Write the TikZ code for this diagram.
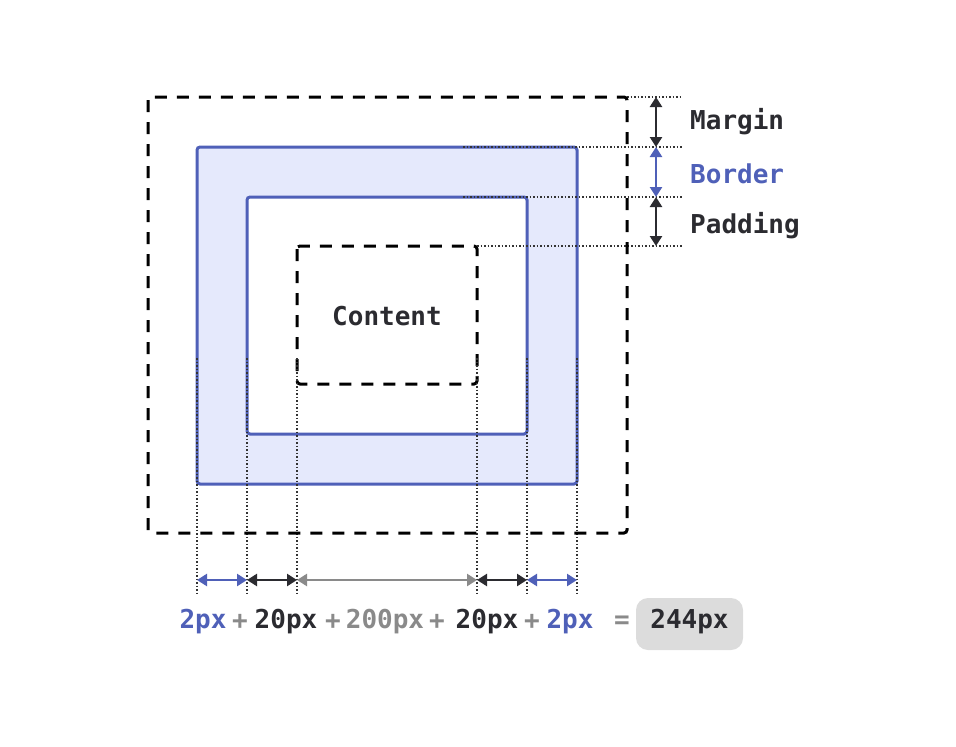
\documentclass[tikz,border=0pt]{standalone}
\usepackage{fontspec}
\setmainfont{DejaVu Sans Mono}
\usetikzlibrary{arrows.meta}
\definecolor{bordercol}{HTML}{4F60B8}
\definecolor{borderfill}{HTML}{E5E9FC}
\definecolor{darkcol}{HTML}{2B2B30}
\definecolor{graycol}{HTML}{8A8A8A}
\definecolor{boxgray}{HTML}{DCDCDC}
\tikzset{
  dashbox/.style={line width=3pt, dash pattern=on 12pt off 10pt, rounded corners=3pt},
  bluebox/.style={draw=bordercol, line width=3pt, rounded corners=3pt},
  guide/.style={dotted, line width=1.5pt, black!80},
  dim/.style={{Triangle[length=10pt,width=12pt]}-{Triangle[length=10pt,width=12pt]}, line width=2.5pt},
  lbl/.style={font=\fontsize{26}{26}\selectfont\bfseries, inner sep=0pt}
}
\begin{document}
\begin{tikzpicture}[x=1pt,y=-1pt]
    \useasboundingbox (0,0) rectangle (956,747);
    % Boxes
    \draw[bluebox, fill=borderfill] (197,147) rectangle (577,484);
    \draw[bluebox, fill=white] (247,197) rectangle (527,434);
    \draw[dashbox] (297,246) rectangle (477,384);
    % Guide lines
    \draw[guide] (627,97) -- (682,97);
    \draw[guide] (463,147) -- (682,147);
    \draw[guide] (463,197) -- (682,197);
    \draw[guide] (477,246) -- (682,246);
    \foreach \x in {197,247,297,477,527,577}
        \draw[guide] (\x,358) -- (\x,595);
    \draw[dashbox] (148,97) rectangle (627,533);
    % Side dimensions
    \draw[dim, darkcol] (656,97) -- (656,147);
    \draw[dim, bordercol] (656,147) -- (656,197);
    \draw[dim, darkcol] (656,197) -- (656,246);
    \node[lbl, anchor=west, text=darkcol] (margin) at (690,122) {Margin};
    \node[lbl, anchor=west, text=bordercol] (border) at (690,174) {Border};
    \node[lbl, anchor=west, text=darkcol] (padding) at (690,226) {Padding};
    \node[lbl, text=darkcol] (content) at (387,316) {Content};
    % Bottom dimensions
    \draw[dim, bordercol] (197,580) -- (247,580);
    \draw[dim, darkcol] (247,580) -- (297,580);
    \draw[dim, graycol] (297,580) -- (477,580);
    \draw[dim, darkcol] (477,580) -- (527,580);
    \draw[dim, bordercol] (527,580) -- (577,580);
    % Sum
    \node[lbl, text=bordercol] (a) at (203,622) {2px};
    \node[lbl, text=graycol] at (240,622) {+};
    \node[lbl, text=darkcol] (b) at (286,622) {20px};
    \node[lbl, text=graycol] at (333,622) {+};
    \node[lbl, text=graycol] (c) at (385,622) {200px};
    \node[lbl, text=graycol] at (437,622) {+};
    \node[lbl, text=darkcol] (d) at (487,622) {20px};
    \node[lbl, text=graycol] at (532,622) {+};
    \node[lbl, text=bordercol] (e) at (570,622) {2px};
    \node[lbl, text=graycol] at (622,622) {=};
    \fill[boxgray, rounded corners=12pt] (636,598) rectangle (743,650);
    \node[lbl, text=darkcol] (total) at (689.5,622) {244px};
\end{tikzpicture}
\end{document}
